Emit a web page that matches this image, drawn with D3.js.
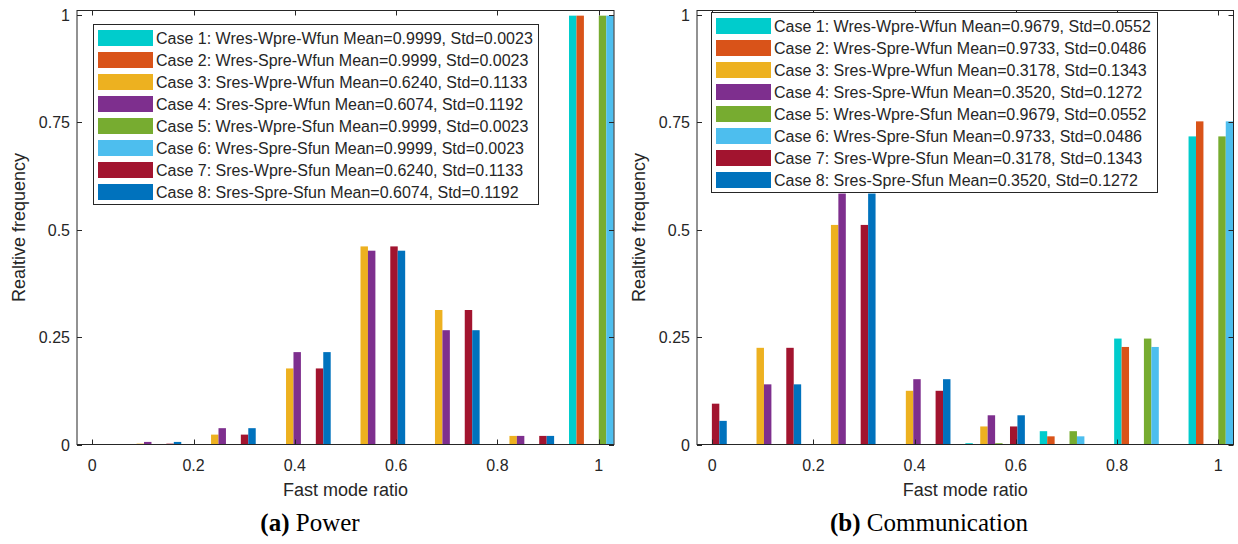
<!DOCTYPE html>
<html>
<head>
<meta charset="utf-8">
<script src="https://cdn.jsdelivr.net/npm/d3@7/dist/d3.min.js"></script>
<style>
  html, body { margin: 0; padding: 0; background: #fff; }
  svg { display: block; }
  .tick-label, .axis-title, .legend-text { font-family: "Liberation Sans", Arial, Helvetica, sans-serif; fill: #262626; }
  .caption { font-family: "Liberation Serif", "Times New Roman", serif; fill: #000; }
</style>
</head>
<body>
<svg id="chart" width="1238" height="544"></svg>
<script>
// Bin centres of the fast-mode-ratio histogram (shared by both panels)
const binCenters = [-0.03, 0.117, 0.264, 0.412, 0.559, 0.706, 0.853, 1.0];
const xTicks = [0, 0.2, 0.4, 0.6, 0.8, 1];
const yTicks = [0, 0.25, 0.5, 0.75, 1];
const yTickLabels = ["0", "0.25", "0.5", "0.75", "1"];

const caseNames = [
  "Case 1: Wres-Wpre-Wfun", "Case 2: Wres-Spre-Wfun", "Case 3: Sres-Wpre-Wfun", "Case 4: Sres-Spre-Wfun",
  "Case 5: Wres-Wpre-Sfun", "Case 6: Wres-Spre-Sfun", "Case 7: Sres-Wpre-Sfun", "Case 8: Sres-Spre-Sfun"
];
const caseColors = ["#00CCCC", "#D95319", "#EDB120", "#7E2F8E", "#77AC30", "#4DBEEE", "#A2142F", "#0072BD"];

// (a) Power — relative frequency per bin
const powerWres = [0, 0, 0, 0, 0, 0, 0, 0.998];
const powerSresWpre = [0, 0.002, 0.023, 0.177, 0.461, 0.313, 0.020, 0];
const powerSresSpre = [0, 0.006, 0.038, 0.215, 0.451, 0.266, 0.020, 0];
const powerSeries = [powerWres, powerWres, powerSresWpre, powerSresSpre, powerWres, powerWres, powerSresWpre, powerSresSpre];
const powerMean = ["0.9999", "0.9999", "0.6240", "0.6074", "0.9999", "0.9999", "0.6240", "0.6074"];
const powerStd = ["0.0023", "0.0023", "0.1133", "0.1192", "0.0023", "0.0023", "0.1133", "0.1192"];

// (b) Communication — relative frequency per bin
const commWresWpre = [0, 0, 0, 0, 0.003, 0.031, 0.2465, 0.717];
const commWresSpre = [0, 0, 0, 0, 0, 0.019, 0.227, 0.752];
const commSresWpre = [0.095, 0.225, 0.511, 0.125, 0.042, 0, 0, 0];
const commSresSpre = [0.055, 0.140, 0.584, 0.152, 0.068, 0, 0, 0];
const commSeries = [commWresWpre, commWresSpre, commSresWpre, commSresSpre, commWresWpre, commWresSpre, commSresWpre, commSresSpre];
const commMean = ["0.9679", "0.9733", "0.3178", "0.3520", "0.9679", "0.9733", "0.3178", "0.3520"];
const commStd = ["0.0552", "0.0486", "0.1343", "0.1272", "0.0552", "0.0486", "0.1343", "0.1272"];

const svg = d3.select("#chart");
const axisColor = "#262626";

function drawPanel(opts) {
  const { id, left, right, top, bottom, series, means, stds, legend, caption, capX, capLabel } = opts;
  const g = svg.append("g");

  const x = d3.scaleLinear().domain([-0.03, 1.03]).range([left, right]);
  const y = d3.scaleLinear().domain([0, 1.01]).range([bottom, top]);

  // grouped bars: 8 cases side by side inside 80% of the bin spacing
  const spacing = binCenters[1] - binCenters[0];
  const groupW = 0.8 * spacing;
  const inner = d3.scaleBand().domain(d3.range(8)).range([-groupW / 2, groupW / 2]).padding(0);

  g.append("clipPath").attr("id", "clip-" + id)
    .append("rect").attr("x", left).attr("y", top).attr("width", right - left).attr("height", bottom - top);

  const bars = g.append("g").attr("clip-path", `url(#clip-${id})`);
  series.forEach((vals, ci) => {
    bars.selectAll(null)
      .data(vals.map((v, bi) => ({ v, c: binCenters[bi] })).filter(d => d.v > 0))
      .enter().append("rect")
      .attr("x", d => x(d.c + inner(ci)))
      .attr("width", d => x(d.c + inner(ci) + inner.bandwidth()) - x(d.c + inner(ci)))
      .attr("y", d => y(d.v))
      .attr("height", d => y(0) - y(d.v))
      .attr("fill", caseColors[ci]);
  });

  // axes box with inward ticks on all four sides
  const tickLen = 5;
  const box = g.append("g").attr("stroke", axisColor).attr("stroke-width", 1).attr("fill", "none");
  box.append("rect").attr("x", left).attr("y", top).attr("width", right - left).attr("height", bottom - top);
  xTicks.forEach(t => {
    const px = Math.round(x(t)) + 0.5;
    box.append("line").attr("x1", px).attr("x2", px).attr("y1", bottom).attr("y2", bottom - tickLen);
    box.append("line").attr("x1", px).attr("x2", px).attr("y1", top).attr("y2", top + tickLen);
  });
  yTicks.forEach(t => {
    const py = Math.round(y(t)) + 0.5;
    box.append("line").attr("x1", left).attr("x2", left + tickLen).attr("y1", py).attr("y2", py);
    box.append("line").attr("x1", right).attr("x2", right - tickLen).attr("y1", py).attr("y2", py);
  });

  g.selectAll(null).data(xTicks).enter().append("text")
    .attr("class", "tick-label").attr("font-size", 16)
    .attr("x", d => x(d)).attr("y", bottom + 26).attr("text-anchor", "middle")
    .text(d => d3.format("")(d));
  g.selectAll(null).data(yTicks).enter().append("text")
    .attr("class", "tick-label").attr("font-size", 16)
    .attr("x", left - 7).attr("y", d => y(d) + 6).attr("text-anchor", "end")
    .text((d, i) => yTickLabels[i]);

  g.append("text").attr("class", "axis-title").attr("font-size", 18)
    .attr("x", (left + right) / 2).attr("y", bottom + 51).attr("text-anchor", "middle")
    .text("Fast mode ratio");
  g.append("text").attr("class", "axis-title").attr("font-size", 18)
    .attr("transform", `translate(${left - 52},${(top + bottom) / 2}) rotate(-90)`)
    .attr("text-anchor", "middle")
    .text("Realtive frequency");

  // legend
  const lg = g.append("g");
  lg.append("rect").attr("x", legend.x + 0.5).attr("y", legend.y + 0.5)
    .attr("width", legend.w).attr("height", 8 * 22 + 4)
    .attr("fill", "#fff").attr("stroke", axisColor).attr("stroke-width", 1);
  caseNames.forEach((name, i) => {
    const ry = legend.y + 6 + i * 22;
    lg.append("rect").attr("x", legend.x + 5).attr("y", ry).attr("width", 55).attr("height", 16)
      .attr("fill", caseColors[i]);
    lg.append("text").attr("class", "legend-text").attr("font-size", 16)
      .attr("x", legend.x + 63).attr("y", ry + 14)
      .text(`${name} Mean=${means[i]}, Std=${stds[i]}`);
  });

  // sub-figure caption
  const cap = g.append("text").attr("class", "caption").attr("font-size", 25)
    .attr("x", capX).attr("y", 531).attr("text-anchor", "middle");
  cap.append("tspan").attr("font-weight", "bold").text(capLabel);
  cap.append("tspan").text(" " + caption);
}

drawPanel({
  id: "power", left: 77, right: 614, top: 10.5, bottom: 444.5,
  series: powerSeries, means: powerMean, stds: powerStd,
  legend: { x: 93, y: 24, w: 445 }, caption: "Power", capLabel: "(a)", capX: 310
});
drawPanel({
  id: "comm", left: 697, right: 1233.5, top: 10.5, bottom: 444.5,
  series: commSeries, means: commMean, stds: commStd,
  legend: { x: 711, y: 12, w: 446 }, caption: "Communication", capLabel: "(b)", capX: 929
});
</script>
</body>
</html>
